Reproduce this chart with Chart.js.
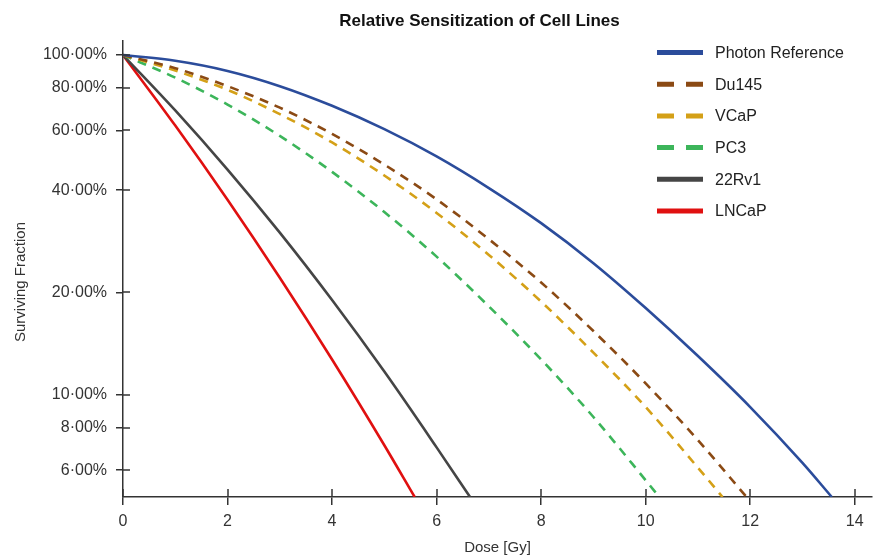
<!DOCTYPE html>
<html><head><meta charset="utf-8">
<script src="https://cdn.jsdelivr.net/npm/chart.js@4"></script>
<style>html,body{margin:0;padding:0;background:#fff}canvas{display:block}</style>
</head><body>
<canvas id="c" width="881" height="560"></canvas>
<script>
// ---- data (dose in Gy, surviving fraction) ----
const seriesLabels = ['Photon Reference', 'Du145', 'VCaP', 'PC3', '22Rv1', 'LNCaP'];
const photonDose = [0, 1, 2, 3, 4, 5, 6, 7, 8, 9, 10, 11, 12, 13, 13.56];
const photonSF   = [1.0, 0.962, 0.898, 0.810, 0.709, 0.605, 0.503, 0.406, 0.320, 0.244, 0.180, 0.130, 0.092, 0.063, 0.05];
const du145Dose  = [0, 1, 2, 3, 4, 5, 6, 7, 8, 9, 10, 11, 11.93];
const du145SF    = [1.0, 0.915, 0.81, 0.70, 0.586, 0.476, 0.376, 0.287, 0.214, 0.154, 0.108, 0.0735, 0.05];
const vcapDose   = [0, 1, 2, 3, 4, 5, 6, 7, 8, 9, 10, 11, 11.47];
const vcapSF     = [1.0, 0.90, 0.79, 0.67, 0.553, 0.442, 0.343, 0.258, 0.188, 0.133, 0.092, 0.061, 0.05];
const pc3Dose    = [0, 1, 2, 3, 4, 5, 6, 7, 8, 9, 10, 10.26];
const pc3SF      = [1.0, 0.858, 0.715, 0.578, 0.453, 0.345, 0.255, 0.182, 0.127, 0.086, 0.056, 0.05];
const rv1Dose    = [0, 1, 2, 3, 4, 5, 6, 6.64];
const rv1SF      = [1.0, 0.687, 0.46, 0.30, 0.19, 0.117, 0.070, 0.05];
const lncapDose  = [0, 1, 2, 3, 4, 5, 5.58];
const lncapSF    = [1.0, 0.62, 0.375, 0.221, 0.127, 0.071, 0.05];
const xTickValues = [0, 2, 4, 6, 8, 10, 12, 14];
const yTickValues = [0.06, 0.08, 0.10, 0.20, 0.40, 0.60, 0.80, 1.00];

const FONT = '"Liberation Sans", Arial, sans-serif';
const pts = (xs, ys) => xs.map((x, i) => ({x, y: ys[i]}));
const mk = (label, xs, ys, color, dashed) => ({
  label, data: pts(xs, ys), borderColor: color, backgroundColor: color,
  borderWidth: 2.6, borderDash: dashed ? [9, 7] : [], pointRadius: 0,
  cubicInterpolationMode: 'monotone', fill: false
});

const innerTicks = {
  id: 'innerTicks',
  afterDatasetsDraw(chart) {
    const {ctx, chartArea: a, scales: {x, y}} = chart;
    ctx.save();
    ctx.strokeStyle = '#333'; ctx.lineWidth = 1.5; ctx.setLineDash([]);
    x.ticks.forEach(t => {
      const px = Math.round(x.getPixelForValue(t.value));
      ctx.beginPath(); ctx.moveTo(px, a.bottom); ctx.lineTo(px, a.bottom - 8); ctx.stroke();
    });
    y.ticks.forEach(t => {
      const py = Math.round(y.getPixelForValue(t.value));
      ctx.beginPath(); ctx.moveTo(a.left, py); ctx.lineTo(a.left + 7, py); ctx.stroke();
    });
    ctx.restore();
  }
};

const insideLegend = {
  id: 'insideLegend',
  afterDraw(chart) {
    const {ctx, chartArea: a} = chart;
    const x0 = a.right - 215, y0 = a.top + 11.5, step = 31.7;
    ctx.save();
    ctx.font = '16px ' + FONT;
    ctx.textBaseline = 'middle'; ctx.textAlign = 'left';
    chart.data.datasets.forEach((ds, i) => {
      const yy = y0 + i * step;
      ctx.strokeStyle = ds.borderColor; ctx.lineWidth = 5; ctx.lineCap = 'butt';
      ctx.setLineDash(ds.borderDash && ds.borderDash.length ? [17, 12] : []);
      ctx.beginPath(); ctx.moveTo(x0, yy); ctx.lineTo(x0 + 46, yy); ctx.stroke();
      ctx.setLineDash([]);
      ctx.fillStyle = '#222';
      ctx.fillText(ds.label, x0 + 58, yy + 1);
    });
    ctx.restore();
  }
};

const adjustTitles = {
  id: 'adjustTitles',
  afterLayout(chart) {
    if (chart.titleBlock) { chart.titleBlock.left = 78; chart.titleBlock.right = 881; }
    const s = chart.scales.y;
    if (s && !s._titleShifted) {
      const orig = s.drawTitle.bind(s);
      s.drawTitle = function () {
        const ctx = this.ctx;
        ctx.save(); ctx.translate(0, 13); orig(); ctx.restore();
      };
      s._titleShifted = true;
    }
  }
};

new Chart(document.getElementById('c'), {
  type: 'line',
  data: {
    datasets: [
      mk(seriesLabels[0], photonDose, photonSF, '#2b4c9b', false),
      mk(seriesLabels[1], du145Dose, du145SF, '#8b4a14', true),
      mk(seriesLabels[2], vcapDose, vcapSF, '#d4a017', true),
      mk(seriesLabels[3], pc3Dose, pc3SF, '#3cb55a', true),
      mk(seriesLabels[4], rv1Dose, rv1SF, '#454545', false),
      mk(seriesLabels[5], lncapDose, lncapSF, '#e01010', false)
    ]
  },
  options: {
    responsive: false, animation: false, devicePixelRatio: 1,
    layout: {padding: {left: 0, right: 9, top: 0, bottom: 0}},
    plugins: {
      legend: {display: false},
      tooltip: {enabled: false},
      title: {
        display: true, text: 'Relative Sensitization of Cell Lines',
        color: '#111', font: {family: FONT, size: 17, weight: 'bold', lineHeight: 1.2},
        padding: {top: 11, bottom: 9.6}
      }
    },
    scales: {
      x: {
        type: 'linear', min: 0, max: 14.33,
        afterBuildTicks: s => { s.ticks = xTickValues.map(v => ({value: v})); },
        afterFit: s => { s.height = 63; },
        grid: {drawOnChartArea: false, drawTicks: true, tickLength: 8, color: '#333', lineWidth: 1.5},
        border: {display: true, color: '#333', width: 1.5},
        ticks: {color: '#333', padding: 7, font: {family: FONT, size: 16}, callback: v => String(v), maxRotation: 0},
        title: {display: true, text: 'Dose [Gy]', color: '#333', font: {family: FONT, size: 15}, padding: {top: 0, bottom: 3}}
      },
      y: {
        type: 'logarithmic', min: 0.05, max: 1.1,
        afterBuildTicks: s => { s.ticks = yTickValues.map(v => ({value: v})); },
        afterFit: s => { s.width = 123; },
        grid: {drawOnChartArea: false, drawTicks: true, tickLength: 7, color: '#333', lineWidth: 1.5},
        border: {display: true, color: '#333', width: 1.5},
        ticks: {color: '#333', padding: 9, font: {family: FONT, size: 16},
          callback: v => (v * 100).toFixed(2).replace('.', '\u00B7') + '%'},
        title: {display: true, text: 'Surviving Fraction', color: '#333', font: {family: FONT, size: 15}, padding: {top: 12, bottom: 0}}
      }
    }
  },
  plugins: [innerTicks, insideLegend, adjustTitles]
});
</script>
</body></html>
